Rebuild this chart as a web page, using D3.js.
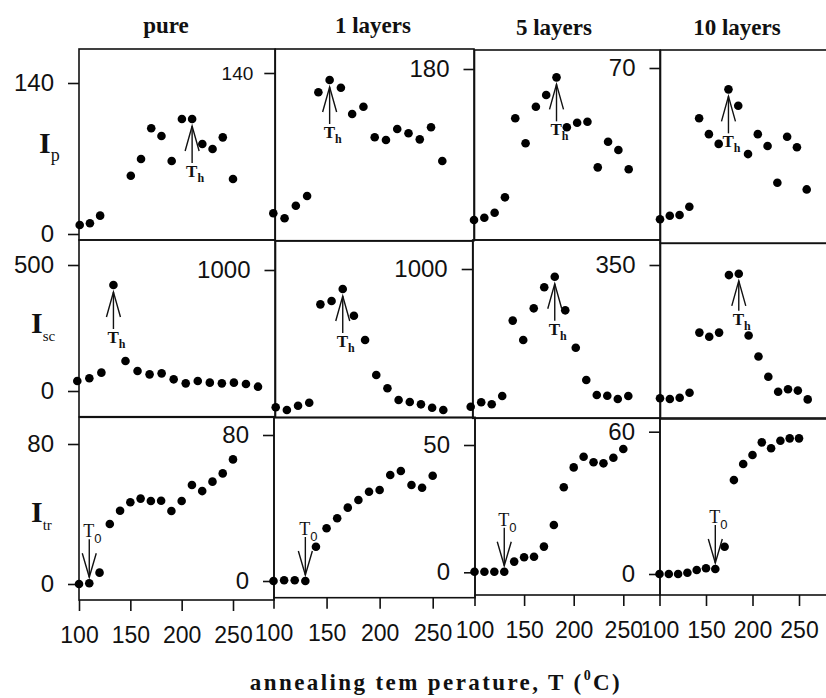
<!DOCTYPE html>
<html><head><meta charset="utf-8">
<script src="https://cdn.jsdelivr.net/npm/d3@7"></script>
<style>body{margin:0;background:#fff}svg{display:block}</style>
</head><body>
<svg id="chart" width="826" height="698"></svg>
<script>
// ---------------- data ----------------
const columnTitles = ["pure", "1 layers", "5 layers", "10 layers"];
const rowLabels = [["I", "p"], ["I", "sc"], ["I", "tr"]];
const temps = [100,110,120,130,140,150,160,170,180,190,200,210,220,230,240,250];
const tempsIpPure = [100,110,120,150,160,170,180,190,200,210,220,230,240,250];

const ipPure  = [8.3, 9.9, 17, 54, 69.5, 98, 90.9, 67.7, 106.6, 106.6, 83.4, 78.8, 89.6, 51];
const ip1     = [18, 13.7, 24.6, 33, 123.2, 133.9, 127.2, 104.3, 110.7, 84.1, 81.7, 91.3, 87.6, 82.3, 92.8, 63.5];
const ip5     = [15.3, 17.8, 23.2, 40, 126.2, 99, 138.8, 151.6, 170.9, 116.4, 121.4, 122.5, 72.7, 100.6, 91.6, 70.6];
const ip10    = [6.2, 7.7, 8.0, 11.5, 48.8, 42.1, 38.0, 61.0, 54.1, 33.7, 42.1, 37.1, 21.6, 41.0, 36.6, 18.8];
const iscPure = [39.7, 50.3, 72.8, 420.6, 119, 79.4, 66.1, 70.1, 46.3, 30.4, 39.7, 33.1, 30.4, 33.1, 27.8, 17.2];
const isc1    = [33, 14, 44, 65, 758, 782, 866, 678, 507, 261, 167, 85, 70, 54, 30, 14];
const isc5    = [37, 68, 54, 112, 639, 503, 725, 872, 946, 711, 449, 224, 119, 114, 91, 112];
const isc10   = [32.6, 31, 34, 46, 189, 179, 189, 326, 329, 182, 132, 84, 48.3, 54, 51, 30];
const itrPure = [0, 0.4, 6.5, 34.3, 41.9, 46.7, 48.8, 47.4, 47.6, 41.7, 47.4, 56.6, 53.1, 58.5, 63.2, 71.2];
const itr1    = [0, 0.4, 0.4, 0, 18.8, 28.9, 34.4, 40.2, 44.4, 48.9, 49.9, 58.1, 60.3, 52.6, 51.1, 57.7];
const itr5    = [0.2, 0.2, 0.2, 0.2, 4.2, 5.9, 6.1, 10.1, 18.6, 33.4, 41.2, 45.4, 43.2, 42.8, 45, 48.4];
const itr10   = [0, 0, 0, 0.5, 1.7, 2.4, 2.1, 11.5, 39.6, 46.4, 50.2, 55.5, 53, 56.2, 57.2, 57.2];

// top tick value of each panel's y axis (row-major)
const yTopTicks = [[140, 140, 180, 70], [500, 1000, 1000, 350], [80, 80, 50, 60]];
// tick values shown on each panel's y axis
const yTickShown = [
  [[0, 140], [140], [180], [70]],
  [[0, 500], [1000], [1000], [350]],
  [[0, 80], [0, 80], [0, 50], [0, 60]]
];
const xTickValues = [100, 150, 200, 250];

// annotations: [row, col, temperature of the marked point, kind]
const markers = [
  [0, 0, 210, "Th"], [0, 1, 150, "Th"], [0, 2, 180, "Th"], [0, 3, 170, "Th"],
  [1, 0, 130, "Th"], [1, 1, 160, "Th"], [1, 2, 180, "Th"], [1, 3, 180, "Th"],
  [2, 0, 110, "T0"], [2, 1, 130, "T0"], [2, 2, 130, "T0"], [2, 3, 160, "T0"]
];
// arrow lengths in px (layout), same order as markers
const markerLen = [37, 37, 37, 37, 37, 37, 37, 30, 38, 38, 38, 38];

// ---------------- layout (pixels) ----------------
const xPix = [
  [[79.7, 233], [273.3, 442.3], [474, 628.7], [660, 806.7]],
  [[77.3, 258], [275.7, 443.3], [470.7, 628.3], [660, 807.7]],
  [[79, 233], [273.5, 432.7], [474.5, 623.3], [659.5, 799]]
];
const yPix = [
  [[234, 83], [234, 73], [234, 69], [234, 68]],
  [[391, 265], [412, 270], [412, 269], [412, 265]],
  [[584, 444], [581, 435], [572.3, 445], [574, 431.7]]
];
// frames: [left, top, right, bottom]
const frames = [
  [[79, 49, 275, 240], [275.3, 49, 474, 240.7], [474.5, 50, 660, 240], [660.5, 50, 840, 243.3]],
  [[79, 240, 275, 416.7], [275.5, 241, 473, 417.7], [472.7, 240, 660, 418.3], [660.5, 243.3, 840, 419]],
  [[79, 417.3, 274, 600], [274, 417.3, 475, 597.7], [475, 418, 660, 595], [660, 418, 840, 595]]
];

const series = [
  [[tempsIpPure, ipPure], [temps, ip1], [temps, ip5], [temps, ip10]],
  [[temps, iscPure], [temps, isc1], [temps, isc5], [temps, isc10]],
  [[temps, itrPure], [temps, itr1], [temps, itr5], [temps, itr10]]
];

const svg = d3.select("#chart");
const ink = "#111";
const sans = "'Liberation Sans', Arial, sans-serif";
const serif = "'Liberation Serif', 'Times New Roman', serif";

const scales = [];
for (let r = 0; r < 3; r++) {
  scales.push([]);
  for (let c = 0; c < 4; c++) {
    const x = d3.scaleLinear().domain([100, 250]).range(xPix[r][c]);
    const y = d3.scaleLinear().domain([0, yTopTicks[r][c]]).range(yPix[r][c]);
    scales[r].push({x, y});
  }
}

// frames
for (let r = 0; r < 3; r++) for (let c = 0; c < 4; c++) {
  const f = frames[r][c];
  svg.append("rect").attr("x", f[0]).attr("y", f[1])
    .attr("width", f[2] - f[0]).attr("height", f[3] - f[1])
    .attr("fill", "none").attr("stroke", ink).attr("stroke-width", 1.6);
}

// y axes
for (let r = 0; r < 3; r++) for (let c = 0; c < 4; c++) {
  const f = frames[r][c];
  const fs = (r === 0 && c === 1) ? 19 : 24;
  const pad = (r === 0 && c === 1) ? 11 : 14;
  const g = svg.append("g").attr("transform", `translate(${f[0]},0)`)
    .call(d3.axisLeft(scales[r][c].y).tickValues(yTickShown[r][c]).tickSize(11).tickPadding(pad).tickFormat(d3.format("d")));
  g.select(".domain").remove();
  g.selectAll("line").attr("stroke", ink).attr("stroke-width", 1.6);
  g.selectAll("text").attr("font-family", sans).attr("font-size", fs).attr("fill", ink);
}

// x axes (bottom row)
for (let c = 0; c < 4; c++) {
  const f = frames[2][c];
  const g = svg.append("g").attr("transform", `translate(0,${f[3]})`)
    .call(d3.axisBottom(scales[2][c].x).tickValues(xTickValues).tickSize(11).tickPadding(16).tickFormat(d3.format("d")));
  g.select(".domain").remove();
  g.selectAll("line").attr("stroke", ink).attr("stroke-width", 1.6);
  g.selectAll("text").attr("font-family", sans).attr("font-size", 23).attr("fill", ink);
}

// points
for (let r = 0; r < 3; r++) for (let c = 0; c < 4; c++) {
  const [xs, ys] = series[r][c];
  const s = scales[r][c];
  svg.append("g").selectAll("circle").data(xs.map((t, i) => [t, ys[i]])).join("circle")
    .attr("cx", d => s.x(d[0])).attr("cy", d => s.y(d[1])).attr("r", 4.3).attr("fill", "#000");
}

// arrows + labels
markers.forEach(([r, c, t, kind], k) => {
  const [xs, ys] = series[r][c];
  const s = scales[r][c];
  const len = markerLen[k];
  const px = s.x(t), py = s.y(ys[xs.indexOf(t)]);
  const g = svg.append("g").attr("stroke", ink).attr("stroke-width", 1.4).attr("fill", "none");
  if (kind === "Th") {
    const tip = py + 7, base = tip + len;
    g.append("line").attr("x1", px).attr("y1", tip).attr("x2", px).attr("y2", base);
    g.append("path").attr("d", `M${px - 7},${tip + 25}L${px},${tip}L${px + 7},${tip + 25}`);
    const tx = svg.append("text").attr("x", px - 6).attr("y", base + 14)
      .attr("font-family", serif).attr("font-weight", "bold").attr("font-size", 17).attr("fill", ink);
    tx.append("tspan").text("T");
    tx.append("tspan").attr("dy", 5).attr("font-size", 12).text("h");
  } else {
    const tip = py - 6, top = tip - len;
    g.append("line").attr("x1", px).attr("y1", top).attr("x2", px).attr("y2", tip);
    g.append("path").attr("d", `M${px - 7},${tip - 24}L${px},${tip}L${px + 7},${tip - 24}`);
    const tx = svg.append("text").attr("x", px - 6).attr("y", top - 2)
      .attr("font-family", serif).attr("font-size", 18).attr("fill", ink);
    tx.append("tspan").text("T");
    tx.append("tspan").attr("dy", 6).attr("font-family", sans).attr("font-size", 13).text("0");
  }
});

// column titles
const titlePos = [[166, 33], [373, 33], [554, 35], [737, 35]];
columnTitles.forEach((t, i) => {
  svg.append("text").attr("x", titlePos[i][0]).attr("y", titlePos[i][1]).attr("text-anchor", "middle")
    .attr("font-family", serif).attr("font-weight", "bold").attr("font-size", 23).attr("fill", ink).text(t);
});

// row labels
const rowLabelPos = [[39, 153], [31, 333], [31, 522]];
const subSize = [18, 15, 15];
rowLabels.forEach((lab, i) => {
  const tx = svg.append("text").attr("x", rowLabelPos[i][0]).attr("y", rowLabelPos[i][1])
    .attr("font-family", serif).attr("fill", ink);
  tx.append("tspan").attr("font-size", 30).attr("font-weight", "bold").text(lab[0]);
  tx.append("tspan").attr("font-size", subSize[i]).attr("dy", 8).text(lab[1]);
});

// x axis title
const xt = svg.append("text").attr("x", 436).attr("y", 690).attr("text-anchor", "middle")
  .attr("font-family", serif).attr("font-weight", "bold").attr("font-size", 23)
  .attr("letter-spacing", "2.4px").attr("fill", ink);
xt.append("tspan").text("annealing tem perature, T (");
xt.append("tspan").attr("font-size", 14).attr("dy", -10).text("0");
xt.append("tspan").attr("dy", 10).text("C)");
</script>
</body></html>
